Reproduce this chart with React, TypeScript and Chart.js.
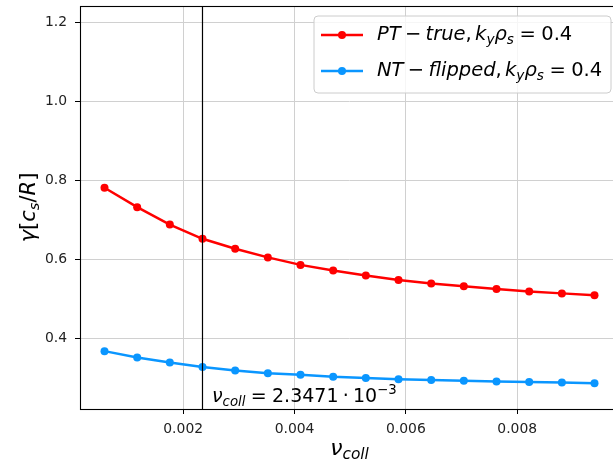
import React, { useEffect, useRef } from "react";
import { Chart, registerables } from "chart.js";

Chart.register(...registerables);

// ---- data ----
const nuColl = [
  0.000587, 0.001174, 0.00176, 0.002347, 0.002934, 0.003521, 0.004107, 0.004694,
  0.005281, 0.005868, 0.006455, 0.007041, 0.007628, 0.008215, 0.008802, 0.009388,
];
const gammaPT = [
  0.781, 0.732, 0.688, 0.652, 0.627, 0.605, 0.586, 0.572,
  0.559, 0.548, 0.539, 0.532, 0.525, 0.519, 0.514, 0.509,
];
const gammaNT = [
  0.368, 0.352, 0.339, 0.328, 0.319, 0.312, 0.308, 0.303,
  0.3, 0.297, 0.295, 0.293, 0.291, 0.29, 0.289, 0.287,
];
const nuMarker = 0.0023471;
const xTicks = [0.002, 0.004, 0.006, 0.008];
const yTicks = [0.4, 0.6, 0.8, 1.0, 1.2];
const xRange = [0.000147, 0.009828];
const yRange = [0.2217, 1.2405];

const RED = "#ff0000";
const BLUE = "#0a96ff";
const FONT = '"DejaVu Sans"';

type Seg = { t: string; it?: boolean; sub?: boolean; sup?: boolean; sp?: number };

function drawMath(
  ctx: CanvasRenderingContext2D,
  segs: Seg[],
  x: number,
  y: number,
  size: number,
  align: "left" | "center" = "left"
) {
  const parts = segs.map((s) => {
    const sz = s.sub || s.sup ? size * 0.7 : size;
    const font = `${s.it ? "italic " : ""}${sz}px ${FONT}`;
    ctx.font = font;
    const w = s.sp !== undefined ? s.sp * size : ctx.measureText(s.t).width;
    const dy = s.sub ? size * 0.2 : s.sup ? -size * 0.42 : 0;
    return { ...s, font, w, dy };
  });
  const total = parts.reduce((a, p) => a + p.w, 0);
  let cx = align === "center" ? x - total / 2 : x;
  ctx.textAlign = "left";
  ctx.textBaseline = "alphabetic";
  for (const p of parts) {
    if (p.sp === undefined) {
      ctx.font = p.font;
      ctx.fillText(p.t, cx, y + p.dy);
    }
    cx += p.w;
  }
  return total;
}

const legendRows: { color: string; segs: Seg[] }[] = [
  {
    color: RED,
    segs: [
      { t: "PT", it: true },
      { t: "", sp: 0.22 },
      { t: "−" },
      { t: "", sp: 0.22 },
      { t: "true", it: true },
      { t: "," },
      { t: "", sp: 0.17 },
      { t: "k", it: true },
      { t: "y", it: true, sub: true },
      { t: "ρ", it: true },
      { t: "s", it: true, sub: true },
      { t: "", sp: 0.28 },
      { t: "=" },
      { t: "", sp: 0.28 },
      { t: "0.4" },
    ],
  },
  {
    color: BLUE,
    segs: [
      { t: "NT", it: true },
      { t: "", sp: 0.22 },
      { t: "−" },
      { t: "", sp: 0.22 },
      { t: "flipped", it: true },
      { t: "," },
      { t: "", sp: 0.17 },
      { t: "k", it: true },
      { t: "y", it: true, sub: true },
      { t: "ρ", it: true },
      { t: "s", it: true, sub: true },
      { t: "", sp: 0.28 },
      { t: "=" },
      { t: "", sp: 0.28 },
      { t: "0.4" },
    ],
  },
];

const decorPlugin = {
  id: "decor",
  afterDraw(chart: any) {
    const ctx: CanvasRenderingContext2D = chart.ctx;
    const a = chart.chartArea;
    ctx.save();
    // frame
    ctx.strokeStyle = "#000";
    ctx.lineWidth = 1.1;
    ctx.strokeRect(a.left + 0.5, a.top + 0.5, a.right - a.left, a.bottom - a.top);

    ctx.fillStyle = "#000";
    // annotation text
    drawMath(
      ctx,
      [
        { t: "ν", it: true },
        { t: "coll", it: true, sub: true },
        { t: "", sp: 0.28 },
        { t: "=" },
        { t: "", sp: 0.28 },
        { t: "2.3471" },
        { t: "", sp: 0.22 },
        { t: "·" },
        { t: "", sp: 0.22 },
        { t: "10" },
        { t: "−3", sup: true },
      ],
      212,
      402,
      19
    );

    // x title
    drawMath(
      ctx,
      [
        { t: "ν", it: true },
        { t: "coll", it: true, sub: true },
      ],
      (a.left + a.right) / 2,
      455,
      22,
      "center"
    );

    // y title
    ctx.save();
    ctx.translate(35, (a.top + a.bottom) / 2);
    ctx.rotate(-Math.PI / 2);
    drawMath(
      ctx,
      [
        { t: "γ", it: true },
        { t: "[" },
        { t: "c", it: true },
        { t: "s", it: true, sub: true },
        { t: "/" },
        { t: "R", it: true },
        { t: "]" },
      ],
      0,
      0,
      21,
      "center"
    );
    ctx.restore();

    // legend
    const bx = 314,
      by = 16,
      bw = 297,
      bh = 77,
      r = 4;
    ctx.beginPath();
    ctx.moveTo(bx + r, by);
    ctx.lineTo(bx + bw - r, by);
    ctx.arcTo(bx + bw, by, bx + bw, by + r, r);
    ctx.lineTo(bx + bw, by + bh - r);
    ctx.arcTo(bx + bw, by + bh, bx + bw - r, by + bh, r);
    ctx.lineTo(bx + r, by + bh);
    ctx.arcTo(bx, by + bh, bx, by + bh - r, r);
    ctx.lineTo(bx, by + r);
    ctx.arcTo(bx, by, bx + r, by, r);
    ctx.closePath();
    ctx.fillStyle = "rgba(255,255,255,0.8)";
    ctx.fill();
    ctx.strokeStyle = "#cccccc";
    ctx.lineWidth = 1;
    ctx.stroke();

    const rowsY = [35, 71];
    legendRows.forEach((row, i) => {
      const yy = rowsY[i];
      ctx.strokeStyle = row.color;
      ctx.lineWidth = 2.5;
      ctx.beginPath();
      ctx.moveTo(321, yy);
      ctx.lineTo(363, yy);
      ctx.stroke();
      ctx.fillStyle = row.color;
      ctx.beginPath();
      ctx.arc(342, yy, 4, 0, Math.PI * 2);
      ctx.fill();
      ctx.fillStyle = "#000";
      drawMath(ctx, row.segs, 377, yy + 5, 19.5);
    });
    ctx.restore();
  },
};

export default function App() {
  const ref = useRef<HTMLCanvasElement>(null);
  useEffect(() => {
    const canvas = ref.current!;
    const chart = new Chart(canvas, {
      type: "scatter",
      data: {
        datasets: [
          {
            label: "vline",
            data: [
              { x: nuMarker, y: yRange[0] },
              { x: nuMarker, y: yRange[1] },
            ],
            showLine: true,
            borderColor: "#000",
            borderWidth: 1.2,
            pointRadius: 0,
            order: 0,
          },
          {
            label: "PT-true",
            data: nuColl.map((x, i) => ({ x, y: gammaPT[i] })),
            showLine: true,
            borderColor: RED,
            backgroundColor: RED,
            borderWidth: 2.5,
            pointRadius: 4,
            pointBorderWidth: 0,
            pointBackgroundColor: RED,
            order: 1,
          },
          {
            label: "NT-flipped",
            data: nuColl.map((x, i) => ({ x, y: gammaNT[i] })),
            showLine: true,
            borderColor: BLUE,
            backgroundColor: BLUE,
            borderWidth: 2.5,
            pointRadius: 4,
            pointBorderWidth: 0,
            pointBackgroundColor: BLUE,
            order: 2,
          },
        ],
      },
      options: {
        animation: false,
        responsive: false,
        devicePixelRatio: 1,
        layout: { padding: { left: 0, top: 6, right: 6, bottom: 0 } },
        plugins: { legend: { display: false }, tooltip: { enabled: false } },
        scales: {
          x: {
            type: "linear",
            min: xRange[0],
            max: xRange[1],
            afterBuildTicks: (s: any) => {
              s.ticks = xTicks.map((v) => ({ value: v }));
            },
            afterFit: (s: any) => {
              s.height = 52;
              s.paddingLeft = 0;
              s.paddingRight = 0;
            },
            border: { display: false },
            grid: {
              color: "#d0d0d0",
              lineWidth: 1,
              tickColor: "#000",
              tickLength: 5,
              drawTicks: true,
            },
            ticks: {
              padding: 7,
              color: "#222",
              font: { family: "DejaVu Sans", size: 13.9 },
              callback: (v: any) => Number(v).toFixed(3),
              maxRotation: 0,
            },
          },
          y: {
            type: "linear",
            min: yRange[0],
            max: yRange[1],
            afterBuildTicks: (s: any) => {
              s.ticks = yTicks.map((v) => ({ value: v }));
            },
            afterFit: (s: any) => {
              s.width = 80;
              s.paddingTop = 0;
              s.paddingBottom = 0;
            },
            border: { display: false },
            grid: {
              color: "#d0d0d0",
              lineWidth: 1,
              tickColor: "#000",
              tickLength: 5,
              drawTicks: true,
            },
            ticks: {
              padding: 8,
              color: "#222",
              font: { family: "DejaVu Sans", size: 13.9 },
              callback: (v: any) => Number(v).toFixed(1),
            },
          },
        },
      },
      plugins: [decorPlugin],
    } as any);
    return () => chart.destroy();
  }, []);
  return (
    <div
      style={{
        position: "absolute",
        left: 0,
        top: 0,
        width: 613,
        height: 461,
        overflow: "hidden",
        background: "#fff",
      }}
    >
      <canvas
        ref={ref}
        width={625}
        height={461}
        style={{ width: 625, height: 461, display: "block" }}
      />
    </div>
  );
}
